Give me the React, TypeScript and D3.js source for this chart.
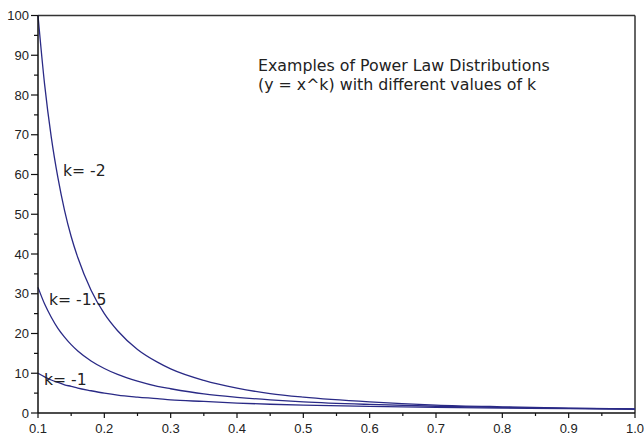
import React from "react";
import * as d3 from "d3";

const xs = [0.1, 0.11, 0.12, 0.13, 0.14, 0.15, 0.16, 0.18, 0.2, 0.22, 0.25, 0.28, 0.3, 0.35, 0.4, 0.45, 0.5, 0.6, 0.7, 0.8, 0.9, 1.0];
const kNeg2 = [100, 82.6, 69.4, 59.2, 51.0, 44.4, 39.1, 30.9, 25, 20.7, 16, 12.8, 11.1, 8.2, 6.25, 4.9, 4, 2.8, 2.0, 1.56, 1.23, 1];
const kNeg15 = [31.6, 27.4, 24.1, 21.3, 19.1, 17.2, 15.6, 13.1, 11.2, 9.7, 8.0, 6.7, 6.1, 4.8, 3.95, 3.3, 2.8, 2.15, 1.7, 1.4, 1.17, 1];
const kNeg1 = [10, 9.1, 8.3, 7.7, 7.1, 6.7, 6.25, 5.6, 5, 4.5, 4, 3.6, 3.3, 2.9, 2.5, 2.2, 2, 1.67, 1.43, 1.25, 1.11, 1];

const xTicks = [0.1, 0.2, 0.3, 0.4, 0.5, 0.6, 0.7, 0.8, 0.9, 1.0];
const xMinor = [0.15, 0.25, 0.35, 0.45, 0.55, 0.65, 0.75, 0.85, 0.95];
const yTicks = [0, 10, 20, 30, 40, 50, 60, 70, 80, 90, 100];
const yMinor = [5, 15, 25, 35, 45, 55, 65, 75, 85, 95];

const seriesLabels = ["k= -2", "k= -1.5", "k= -1"];
const titleLines = ["Examples of Power Law Distributions", "(y = x^k) with different values of k"];

export default function App() {
  const W = 644, H = 437;
  const x = d3.scaleLinear().domain([0.1, 1.0]).range([38, 635]);
  const y = d3.scaleLinear().domain([0, 100]).range([413, 15.5]);
  const series = [kNeg2, kNeg15, kNeg1];
  const line = d3
    .line<number>()
    .x((_, i) => x(xs[i]))
    .y((d) => y(d))
    .curve(d3.curveMonotoneX);

  const labelPos = [
    { x: 63, y: 176 },
    { x: 49, y: 305 },
    { x: 44, y: 385 },
  ];
  const font = "DejaVu Sans, Verdana, sans-serif";
  const tickFont = "Liberation Sans, Arial, sans-serif";

  return (
    <svg
      width={W}
      height={H}
      style={{ position: "absolute", left: 0, top: 0, background: "#fff" }}
    >
      <rect x={0} y={0} width={W} height={H} fill="#fff" />
      {/* frame */}
      <line x1={x(0.1)} x2={x(1.0)} y1={y(100)} y2={y(100)} stroke="#333" strokeWidth={1.5} />
      <line x1={x(1.0)} x2={x(1.0)} y1={y(100)} y2={y(0)} stroke="#333" strokeWidth={1.5} />
      {/* curves */}
      {series.map((s, i) => (
        <path key={i} d={line(s) || ""} fill="none" stroke="#2a2a86" strokeWidth={1.3} />
      ))}
      {/* axes */}
      <line x1={x(0.1)} x2={x(1.0)} y1={y(0)} y2={y(0)} stroke="#111" strokeWidth={1.5} />
      <line x1={x(0.1)} x2={x(0.1)} y1={y(0)} y2={y(100)} stroke="#111" strokeWidth={1.5} />
      {xTicks.map((t) => (
        <g key={"xt" + t}>
          <line x1={x(t)} x2={x(t)} y1={y(0)} y2={y(0) + 5} stroke="#111" strokeWidth={1.2} />
          <text x={x(t)} y={433} textAnchor="middle" fontFamily={tickFont} fontSize={13} fill="#222">
            {t.toFixed(1)}
          </text>
        </g>
      ))}
      {xMinor.map((t) => (
        <line key={"xm" + t} x1={x(t)} x2={x(t)} y1={y(0)} y2={y(0) + 3} stroke="#111" strokeWidth={1.2} />
      ))}
      {yTicks.map((t) => (
        <g key={"yt" + t}>
          <line x1={x(0.1) - 7} x2={x(0.1)} y1={y(t)} y2={y(t)} stroke="#111" strokeWidth={1.2} />
          <text x={29} y={y(t)} dy="0.35em" textAnchor="end" fontFamily={tickFont} fontSize={13} fill="#222">
            {t}
          </text>
        </g>
      ))}
      {yMinor.map((t) => (
        <line key={"ym" + t} x1={x(0.1) - 4} x2={x(0.1)} y1={y(t)} y2={y(t)} stroke="#111" strokeWidth={1.2} />
      ))}
      {/* series labels */}
      {seriesLabels.map((l, i) => (
        <text key={l} x={labelPos[i].x} y={labelPos[i].y} fontFamily={font} fontSize={15.6} fill="#222">
          {l}
        </text>
      ))}
      {/* title */}
      {titleLines.map((l, i) => (
        <text key={l} x={258} y={71 + i * 19} fontFamily={font} fontSize={15.8} fill="#222">
          {l}
        </text>
      ))}
    </svg>
  );
}
